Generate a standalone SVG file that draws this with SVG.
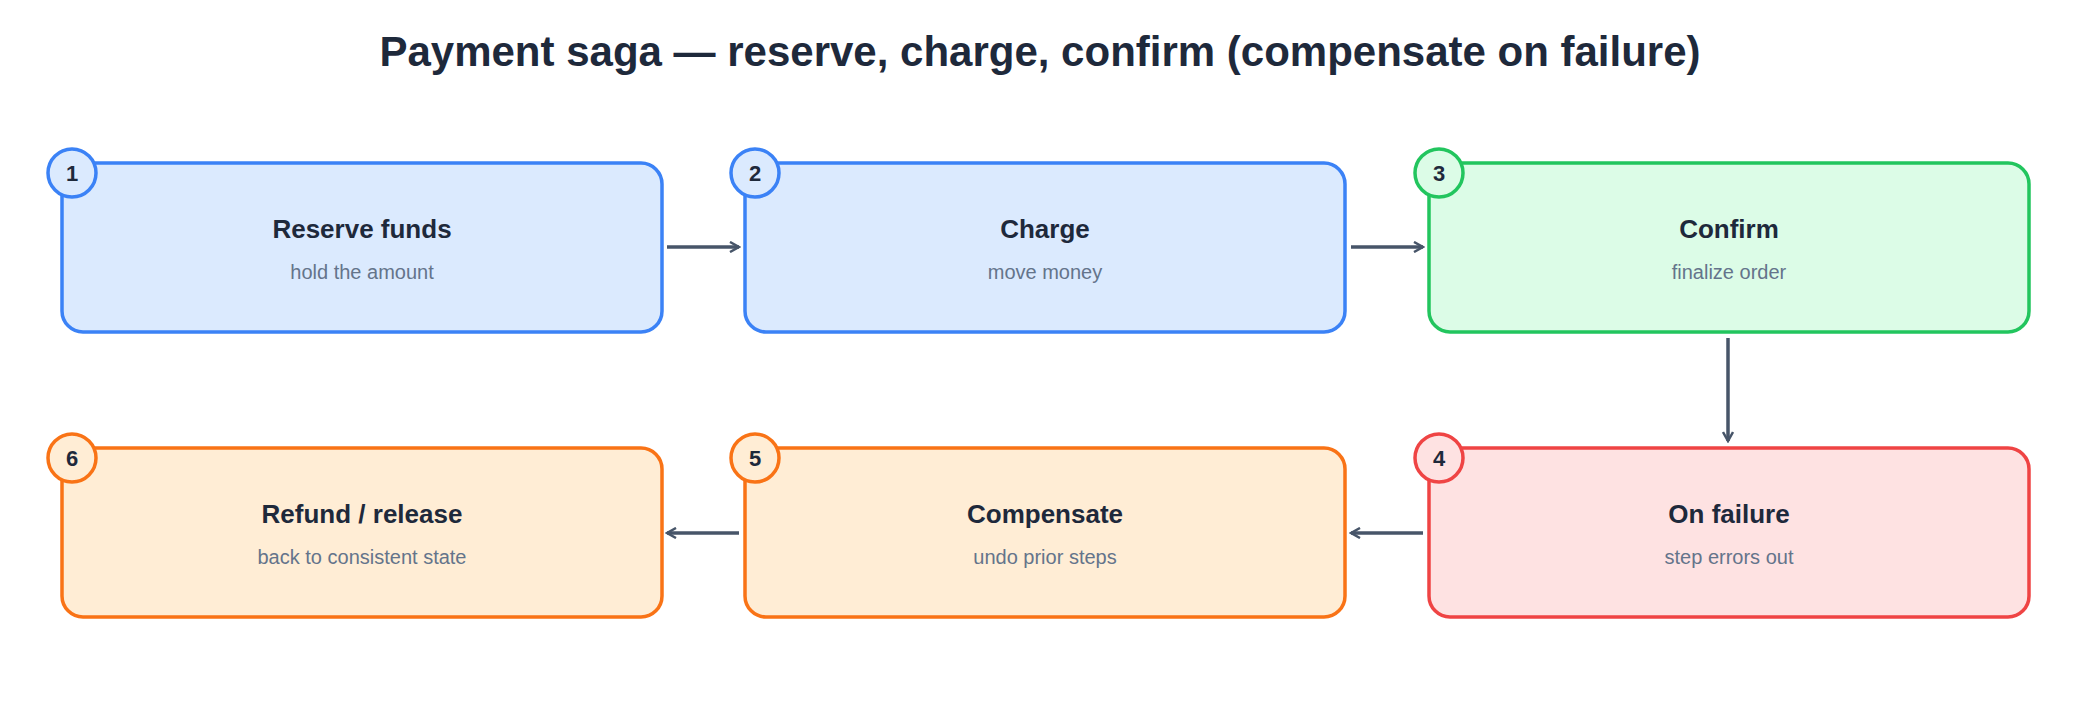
<svg xmlns="http://www.w3.org/2000/svg" width="2080" height="704" viewBox="0 0 2080 704">
<style>
.t{font-family:"Liberation Sans",Arial,sans-serif;font-weight:bold;fill:#1e293b;text-anchor:middle}
.s{font-family:"Liberation Sans",Arial,sans-serif;fill:#64748b;text-anchor:middle;font-size:20px}
.b{stroke-width:3.5}
.blue{fill:#dbeafe;stroke:#3b82f6}.green{fill:#dcfce7;stroke:#22c55e}.red{fill:#fee2e2;stroke:#ef4444}.orange{fill:#ffedd5;stroke:#f97316}
.c{stroke:#475569;stroke-width:3.5;fill:none;marker-end:url(#a)}
</style>
<defs><marker id="a" viewBox="0 0 12 12" refX="10" refY="6" markerWidth="12" markerHeight="12" markerUnits="userSpaceOnUse" orient="auto"><path d="M1 1L10 6L1 11" fill="none" stroke="#475569" stroke-width="2.5"/></marker></defs>
<rect width="2080" height="704" fill="#fff"/>
<text class="t" x="1040" y="66" font-size="42">Payment saga — reserve, charge, confirm (compensate on failure)</text>
<g id="connectors">
<line class="c" x1="667" y1="247" x2="739" y2="247"/>
<line class="c" x1="1351" y1="247" x2="1423" y2="247"/>
<line class="c" x1="1728" y1="338" x2="1728" y2="441"/>
<line class="c" x1="1423" y1="533" x2="1351" y2="533"/>
<line class="c" x1="739" y1="533" x2="667" y2="533"/>
</g>
<g id="n1"><rect class="b blue" x="62" y="163" width="600" height="169" rx="21"/><circle class="b blue" cx="72" cy="173" r="24"/><text class="t" x="72" y="181" font-size="22">1</text><text class="t" x="362" y="238" font-size="26">Reserve funds</text><text class="s" x="362" y="279">hold the amount</text></g>
<g id="n2"><rect class="b blue" x="745" y="163" width="600" height="169" rx="21"/><circle class="b blue" cx="755" cy="173" r="24"/><text class="t" x="755" y="181" font-size="22">2</text><text class="t" x="1045" y="238" font-size="26">Charge</text><text class="s" x="1045" y="279">move money</text></g>
<g id="n3"><rect class="b green" x="1429" y="163" width="600" height="169" rx="21"/><circle class="b green" cx="1439" cy="173" r="24"/><text class="t" x="1439" y="181" font-size="22">3</text><text class="t" x="1729" y="238" font-size="26">Confirm</text><text class="s" x="1729" y="279">finalize order</text></g>
<g id="n4"><rect class="b red" x="1429" y="448" width="600" height="169" rx="21"/><circle class="b red" cx="1439" cy="458" r="24"/><text class="t" x="1439" y="466" font-size="22">4</text><text class="t" x="1729" y="523" font-size="26">On failure</text><text class="s" x="1729" y="564">step errors out</text></g>
<g id="n5"><rect class="b orange" x="745" y="448" width="600" height="169" rx="21"/><circle class="b orange" cx="755" cy="458" r="24"/><text class="t" x="755" y="466" font-size="22">5</text><text class="t" x="1045" y="523" font-size="26">Compensate</text><text class="s" x="1045" y="564">undo prior steps</text></g>
<g id="n6"><rect class="b orange" x="62" y="448" width="600" height="169" rx="21"/><circle class="b orange" cx="72" cy="458" r="24"/><text class="t" x="72" y="466" font-size="22">6</text><text class="t" x="362" y="523" font-size="26">Refund / release</text><text class="s" x="362" y="564">back to consistent state</text></g>
</svg>
